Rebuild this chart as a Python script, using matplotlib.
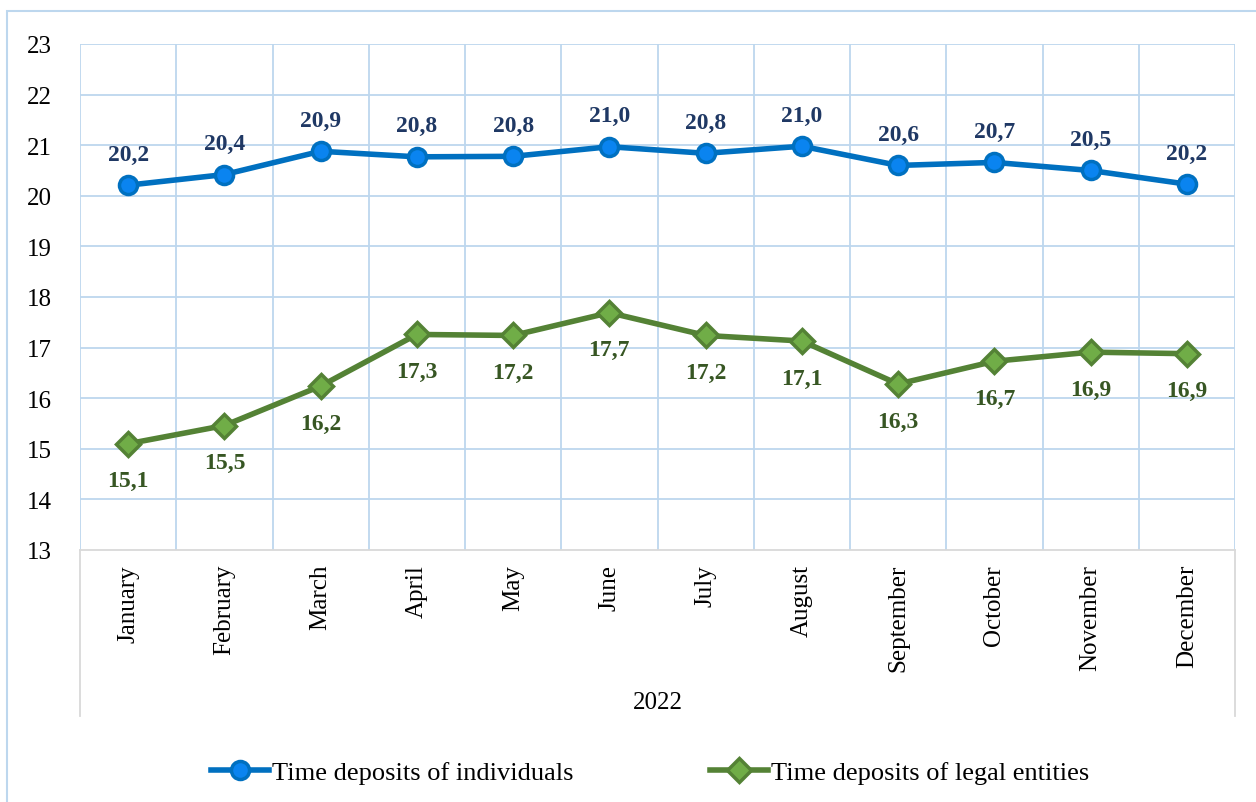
import matplotlib
matplotlib.use("Agg")
import matplotlib.pyplot as plt
from matplotlib.patches import Rectangle
from matplotlib.lines import Line2D

months = ["January", "February", "March", "April", "May", "June", "July",
          "August", "September", "October", "November", "December"]
individuals = [20.21, 20.42, 20.88, 20.77, 20.78, 20.97, 20.84, 20.98, 20.60, 20.66, 20.50, 20.23]
legal = [15.10, 15.46, 16.24, 17.26, 17.24, 17.69, 17.24, 17.13, 16.28, 16.73, 16.91, 16.88]
yticks = [13, 14, 15, 16, 17, 18, 19, 20, 21, 22, 23]
group_label = "2022"
series_names = ["Time deposits of individuals", "Time deposits of legal entities"]

plt.rcParams['font.family'] = ['Liberation Serif', 'DejaVu Serif']

W, H = 1256, 803
fig = plt.figure(figsize=(W / 100, H / 100), dpi=100)
fig.patch.set_facecolor("white")

# outer chart frame (right and bottom edges fall outside the image)
fig.patches.append(Rectangle((7 / W, -0.2), 1.2, 1.2 - 12 / H, transform=fig.transFigure,
                             fill=False, edgecolor="#BDD7EE", linewidth=1.5))

x0, x1, y0, y1 = 80, 1235, 45, 551
ax = fig.add_axes([x0 / W, 1 - y1 / H, (x1 - x0) / W, (y1 - y0) / H])
n = len(months)
xs = list(range(n))
ax.set_xlim(-0.5, n - 0.5)
ax.set_ylim(13, 23)
ax.set_yticks(yticks)
ax.set_yticklabels([str(t) for t in yticks], fontsize=18)

grid_c = "#BDD7EE"
for y in yticks[1:]:
    ax.axhline(y, color=grid_c, lw=1.3, zorder=0)
for i in range(n + 1):
    ax.axvline(i - 0.5, color=grid_c, lw=1.3, zorder=0)
for s in ["top", "right", "left"]:
    ax.spines[s].set_visible(False)
ax.spines["bottom"].set_color("#D9D9D9")
ax.spines["bottom"].set_linewidth(1.3)
ax.tick_params(axis="both", length=0)
ax.tick_params(axis="y", pad=20)
ax.set_xticks(xs)
ax.set_xticklabels(months, rotation=90, fontsize=18, va="top")
ax.tick_params(axis="x", pad=10)

blue_line = "#0070C0"
blue_face = "#0A84F0"
green_line = "#548235"
green_face = "#70AD47"

ax.plot(xs, individuals, color=blue_line, lw=4, marker="o", ms=13,
        markerfacecolor=blue_face, markeredgecolor=blue_line, markeredgewidth=2.5,
        zorder=3, clip_on=False)
ax.plot(xs, legal, color=green_line, lw=4, marker="D", ms=12,
        markerfacecolor=green_face, markeredgecolor=green_line, markeredgewidth=2.5,
        zorder=3, clip_on=False)

for x, v in zip(xs, individuals):
    ax.annotate(f"{v:.1f}".replace(".", ","), (x, v), xytext=(0, 31), textcoords="offset pixels",
                ha="center", va="center", fontsize=17, fontweight="bold", color="#1F3864")
for x, v in zip(xs, legal):
    ax.annotate(f"{v:.1f}".replace(".", ","), (x, v), xytext=(0, -37), textcoords="offset pixels",
                ha="center", va="center", fontsize=17, fontweight="bold", color="#375623")

# category-axis group area lines
for xp in (x0, x1):
    fig.add_artist(Line2D([xp / W, xp / W], [1 - y1 / H, 1 - 717 / H], transform=fig.transFigure,
                          color="#D9D9D9", lw=1.3))
fig.text(((x0 + x1) / 2) / W, 1 - 703 / H, group_label, ha="center", va="center", fontsize=18)

handles = [
    Line2D([], [], color=blue_line, lw=4, marker="o", ms=13, markerfacecolor=blue_face,
           markeredgecolor=blue_line, markeredgewidth=2.5),
    Line2D([], [], color=green_line, lw=4, marker="D", ms=12, markerfacecolor=green_face,
           markeredgecolor=green_line, markeredgewidth=2.5),
]
fig.legend(handles, series_names, loc="center", bbox_to_anchor=(650 / W, 1 - 773 / H),
           ncol=2, frameon=False, fontsize=19, handlelength=2.2, handletextpad=0.1,
           columnspacing=5.2)

fig.savefig("out.png", dpi=100, facecolor="white")
